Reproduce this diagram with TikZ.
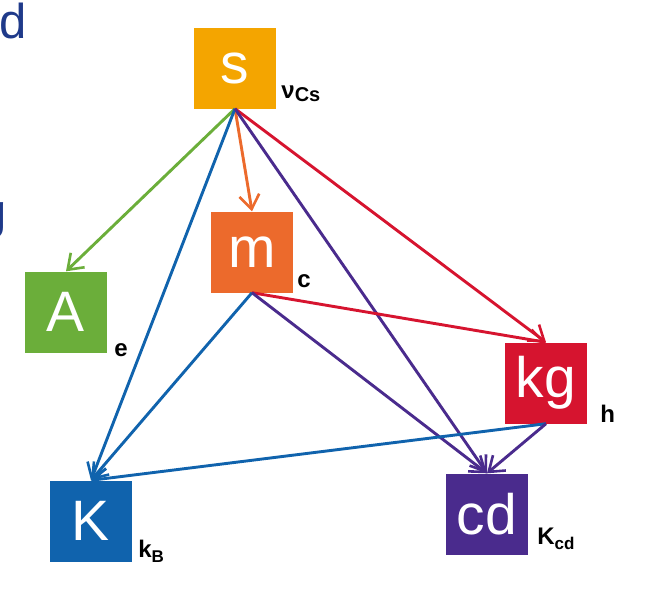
\documentclass[tikz,border=0pt]{standalone}
\usepackage{fontspec}
\setmainfont{Liberation Sans}
\usepackage{xcolor}
\usetikzlibrary{positioning,arrows.meta,calc}

\definecolor{sOrange}{HTML}{F4A500}
\definecolor{mOrange}{HTML}{EC6A2C}
\definecolor{aGreen}{HTML}{6BAE3A}
\definecolor{kgRed}{HTML}{D6142F}
\definecolor{kBlue}{HTML}{1063AD}
\definecolor{cdPurple}{HTML}{4A2B8D}
\definecolor{titleBlue}{HTML}{1F3A8A}

\begin{document}
\begin{tikzpicture}[x=1pt, y=-1pt,
  unitbox/.style={minimum width=82pt, minimum height=81pt, inner sep=0pt,
                  text=white, font=\fontsize{57}{57}\selectfont},
  sub/.style={anchor=base west, inner sep=0pt,
              font=\fontsize{24}{24}\selectfont\bfseries},
  link/.style={->, line width=2.9pt},
  >={Straight Barb[length=14pt,width=20pt,line width=2.6pt]}
]
  \useasboundingbox (0,0) rectangle (648,600);

  % cut-off slide text on the left
  \node[anchor=base west, inner sep=0pt, text=titleBlue,
        font=\fontsize{49}{49}\selectfont] (cutD) at (-1,38) {d};
  \node[anchor=base east, inner sep=0pt, text=titleBlue,
        font=\fontsize{49}{49}\selectfont] (cutG) at (7,228) {g};

  % Units
  \node[unitbox, fill=sOrange] (s) at (235,68) {s};
  \node[unitbox, fill=mOrange] (m) at (252,252) {m};
  \node[unitbox, fill=aGreen] (A) at (66,312) {A};
  \node[unitbox, fill=kgRed] (kg) at (546,383) {kg};
  \node[unitbox, fill=kBlue] (K) at (91,521) {K};
  \node[unitbox, fill=cdPurple] (cd) at (487,514) {cd};

  % Constants
  \node[sub] (nuCs) at ($(s.south east)+(5,-10)$)
    {ν\raisebox{-0.25ex}{\fontsize{20}{20}\selectfont Cs}};
  \node[sub] (cLbl) at ($(m.south east)+(4,-5)$) {c};
  \node[sub] (eLbl) at ($(A.south east)+(7,4)$) {e};
  \node[sub] (hLbl) at ($(kg.south east)+(13,-1)$) {h};
  \node[sub] (kB) at ($(K.south east)+(6,-4)$)
    {k\raisebox{-0.35ex}{\fontsize{17}{17}\selectfont B}};
  \node[sub] (Kcd) at ($(cd.south east)+(9,-10)$)
    {K\raisebox{-0.35ex}{\fontsize{17}{17}\selectfont cd}};

  % Dependencies from s
  \draw[link, aGreen] (s.south) -- (A.north);
  \draw[link, mOrange] (s.south) -- (m.north);
  \draw[link, kBlue] (s.south) -- (K.north);
  \draw[link, kgRed] (s.south) -- (kg.north);
  \draw[link, cdPurple] (s.south) -- (cd.north);

  % Dependencies from m
  \draw[link, kBlue] (m.south) -- (K.north);
  \draw[link, kgRed] (m.south) -- (kg.north);
  \draw[link, cdPurple] (m.south) -- (cd.north);

  % Dependencies from kg
  \draw[link, kBlue] (kg.south) -- (K.north);
  \draw[link, cdPurple] (kg.south) -- (cd.north);
\end{tikzpicture}
\end{document}
